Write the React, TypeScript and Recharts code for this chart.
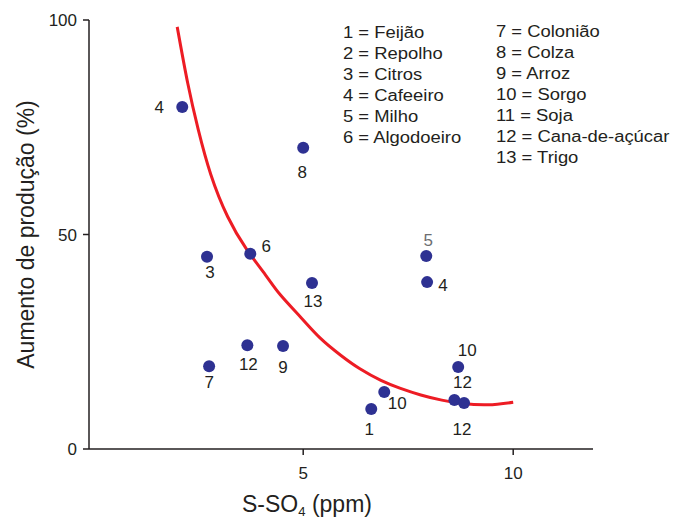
import { ComposedChart, Scatter, Line, XAxis, YAxis } from 'recharts';

// observed points: S-SO4 (ppm) vs yield increase (%)
const pointX = [2.12, 5.0, 3.74, 2.71, 5.21, 3.67, 4.52, 2.76, 7.93, 7.95, 8.69, 8.6, 8.83, 6.93, 6.62];
const pointY = [79.7, 70.2, 45.5, 44.8, 38.7, 24.2, 24.0, 19.3, 45.0, 38.9, 19.1, 11.4, 10.7, 13.3, 9.3];
const pointCrop = ['4', '8', '6', '3', '13', '12', '9', '7', '5', '4', '10', '12', '12', '10', '1'];

// fitted curve
const curveX = [2.0, 2.25, 2.5, 2.8, 3.2, 3.65, 4.1, 4.45, 4.95, 5.4, 5.9, 6.35, 6.85, 7.3, 7.8, 8.3, 8.8, 9.4, 10.0];
const curveY = [98.4, 85.3, 74.5, 64, 54.2, 46.6, 40.6, 36, 30.6, 25.9, 21.8, 18.7, 16, 14.2, 12.6, 11.4, 10.6, 10.3, 10.9];

const xTicks = [5, 10];
const yTicks = [0, 50, 100];

const cropsLeft = ['1 = Feijão', '2 = Repolho', '3 = Citros', '4 = Cafeeiro', '5 = Milho', '6 = Algodoeiro'];
const cropsRight = ['7 = Colonião', '8 = Colza', '9 = Arroz', '10 = Sorgo', '11 = Soja', '12 = Cana-de-açúcar', '13 = Trigo'];

// where each number sits relative to its dot (px)
const labelDx = [-23, -1, 16, 3, 1, 1, 0, 0, 2, 16, 9, 8, -2, 13, -2];
const labelDy = [0, 25, -7, 16, 19, 19, 21, 16, -15, 3, -17, -18, 26, 12, 20];

const FONT = '"Liberation Sans", Arial, sans-serif';
const INK = '#231f20';

const points = pointX.map((x, i) => ({
  x,
  y: pointY[i],
  label: pointCrop[i],
  dx: labelDx[i],
  dy: labelDy[i],
  faded: i === 8,
}));
const curve = curveX.map((x, i) => ({ x, y: curveY[i] }));

function Dot(props: any) {
  const { cx, cy, payload } = props;
  return (
    <g>
      <circle cx={cx} cy={cy} r={6} fill="#2e3192" />
      <text
        x={cx + payload.dx}
        y={cy + payload.dy}
        textAnchor="middle"
        dominantBaseline="central"
        fontSize={17}
        fontFamily={FONT}
        fill={payload.faded ? '#6d6e71' : INK}
      >
        {payload.label}
      </text>
    </g>
  );
}

function XTitle(props: any) {
  const { x, y } = props.viewBox;
  return (
    <text x={x + 218} y={y + 63} textAnchor="middle" fontSize={23} fontFamily={FONT} fill={INK}>
      S-SO<tspan fontSize={13} dy={4}>4</tspan>
      <tspan dy={-4}> (ppm)</tspan>
    </text>
  );
}

function YTitle(props: any) {
  const { x, y, height } = props.viewBox;
  const cx = x + 26;
  const cy = y + height / 2;
  return (
    <text
      x={cx}
      y={cy}
      transform={`rotate(-90 ${cx} ${cy})`}
      textAnchor="middle"
      dominantBaseline="central"
      fontSize={23}
      fontFamily={FONT}
      fill={INK}
    >
      Aumento de produção (%)
    </text>
  );
}

const legendCol = (left: number, top: number): React.CSSProperties => ({
  position: 'absolute',
  left,
  top,
  fontFamily: FONT,
  fontSize: 16,
  lineHeight: '21px',
  color: INK,
  transform: 'scaleX(1.15)',
  transformOrigin: 'left top',
  whiteSpace: 'nowrap',
});

export default function App() {
  return (
    <div style={{ position: 'absolute', left: 0, top: 0, width: 675, height: 518, background: '#fff' }}>
      <ComposedChart width={675} height={518} margin={{ top: 20, right: 82, bottom: 0, left: 0 }}>
        <XAxis
          type="number"
          dataKey="x"
          domain={[-0.1, 11.9]}
          ticks={xTicks}
          tickSize={6}
          tickMargin={12}
          tick={{ fill: INK, fontSize: 17, fontFamily: FONT }}
          axisLine={{ stroke: INK, strokeWidth: 1.5 }}
          tickLine={{ stroke: INK, strokeWidth: 1.5 }}
          height={69}
          label={<XTitle />}
        />
        <YAxis
          type="number"
          dataKey="y"
          domain={[0, 100]}
          ticks={yTicks}
          tickSize={6}
          tickMargin={6}
          tick={{ fill: INK, fontSize: 17, fontFamily: FONT }}
          axisLine={{ stroke: INK, strokeWidth: 1.5 }}
          tickLine={{ stroke: INK, strokeWidth: 1.5 }}
          width={89}
          label={<YTitle />}
        />
        <Line
          data={curve}
          dataKey="y"
          type="natural"
          stroke="#ed1c24"
          strokeWidth={3}
          dot={false}
          activeDot={false}
          isAnimationActive={false}
        />
        <Scatter data={points} dataKey="y" shape={<Dot />} isAnimationActive={false} />
      </ComposedChart>
      <div style={legendCol(343, 22)}>
        {cropsLeft.map((c) => (
          <div key={c}>{c}</div>
        ))}
      </div>
      <div style={legendCol(496, 21)}>
        {cropsRight.map((c) => (
          <div key={c}>{c}</div>
        ))}
      </div>
    </div>
  );
}
